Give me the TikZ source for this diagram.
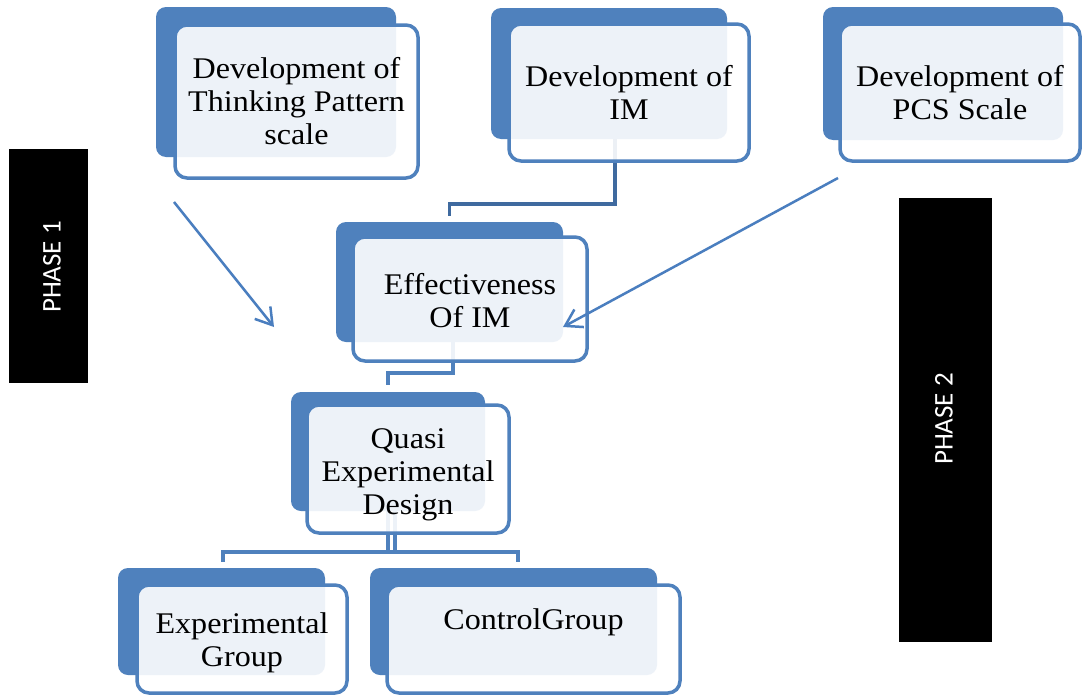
\documentclass[tikz,border=0pt]{standalone}
\usepackage{fontspec}
\setmainfont[FakeStretch=1.07]{Liberation Serif}
\newfontfamily\phasefont{Carlito}
\usetikzlibrary{arrows.meta}
\definecolor{boxblue}{HTML}{4F81BD}
\definecolor{linkdark}{HTML}{3F6A9F}
\definecolor{arrowblue}{HTML}{4A7EBF}

\begin{document}
\begin{tikzpicture}[
  x=1pt, y=-1pt,
  backbox/.style={fill=boxblue, rounded corners=10pt, inner sep=0pt},
  frontbox/.style={draw=boxblue, line width=3.5pt, fill=white, fill opacity=0.9,
    text opacity=1, rounded corners=12pt, inner sep=0pt, align=center,
    font=\fontsize{30}{33}\selectfont},
  link/.style={draw=boxblue, line width=3.5pt},
  pointer/.style={draw=arrowblue, line width=2.5pt,
    -{Straight Barb[length=16pt, width=20pt]}},
  phasebox/.style={fill=black, inner sep=0pt},
  phaselabel/.style={text=white, inner sep=0pt, rotate=90,
    font=\phasefont\fontsize{27}{30}\selectfont}
]
\useasboundingbox (0,0) rectangle (1082,696);
\fill[white] (0,0) rectangle (1082,696);

% shadow plates behind each step
\node[backbox, minimum width=240, minimum height=150] (tpBack)   at (276,82)      {};
\node[backbox, minimum width=236, minimum height=131] (imBack)   at (609,73.5)    {};
\node[backbox, minimum width=240, minimum height=133] (pcsBack)  at (943,73.5)    {};
\node[backbox, minimum width=227, minimum height=120] (effBack)  at (449.5,282)   {};
\node[backbox, minimum width=194, minimum height=119] (qedBack)  at (388,451.5)   {};
\node[backbox, minimum width=207, minimum height=107] (expBack)  at (221.5,621.5) {};
\node[backbox, minimum width=287, minimum height=107] (ctrlBack) at (513.5,621.5) {};

% elbow connectors of the hierarchy
\draw[link, draw=linkdark, shorten >=6pt]
  ([xshift=6pt]imBack.south) -- ++(0,65) -| (effBack.north);
\draw[link, shorten >=7pt]
  ([xshift=3.5pt]effBack.south) -- ++(0,31) -| (qedBack.north);
\draw[link, shorten >=6pt]
  (qedBack.south) -- ++(0,41) -| ([xshift=4.5pt]ctrlBack.north);
\draw[link, shorten >=6pt]
  ([xshift=7pt]qedBack.south) -- ++(0,41) -| ([xshift=1.5pt]expBack.north);

% framed step boxes
\node[frontbox, minimum width=243, minimum height=153] (tpFront) at (296.5,101.5)
  {Development of\\Thinking Pattern\\scale};
\node[frontbox, minimum width=240, minimum height=137] (imFront) at (629,92.5)
  {Development of\\IM};
\node[frontbox, minimum width=240, minimum height=137] (pcsFront) at (960,92.5)
  {Development of\\PCS Scale};
\node[frontbox, minimum width=234, minimum height=124] (effFront) at (470,299)
  {\rule{0pt}{24pt}Effectiveness\\Of IM};
\node[frontbox, minimum width=202, minimum height=128] (qedFront) at (408,469)
  {\rule{0pt}{32pt}Quasi\\Experimental\\Design};
\node[frontbox, minimum width=210, minimum height=108] (expFront) at (242,639)
  {\rule{0pt}{29pt}Experimental\\Group};
\node[frontbox, minimum width=293, minimum height=108] (ctrlFront) at (533.5,639)
  {ControlGroup\\\phantom{Group}};

% arrows feeding the effectiveness study
\coordinate (tpTail)  at (174,202);
\coordinate (effTipL) at (274,327);
\coordinate (pcsTail) at (838,178);
\coordinate (effTipR) at (563,327);
\draw[pointer] (tpTail) -- (effTipL);
\draw[pointer] (pcsTail) -- (effTipR);

% phase bands
\node[phasebox, minimum width=79, minimum height=234] (phaseOne) at (48.5,266) {};
\node[phaselabel] (phaseOneText) at (52,267) {PHASE 1};
\node[phasebox, minimum width=93, minimum height=444] (phaseTwo) at (945.5,420) {};
\node[phaselabel] (phaseTwoText) at (944,419) {PHASE 2};
\end{tikzpicture}
\end{document}
